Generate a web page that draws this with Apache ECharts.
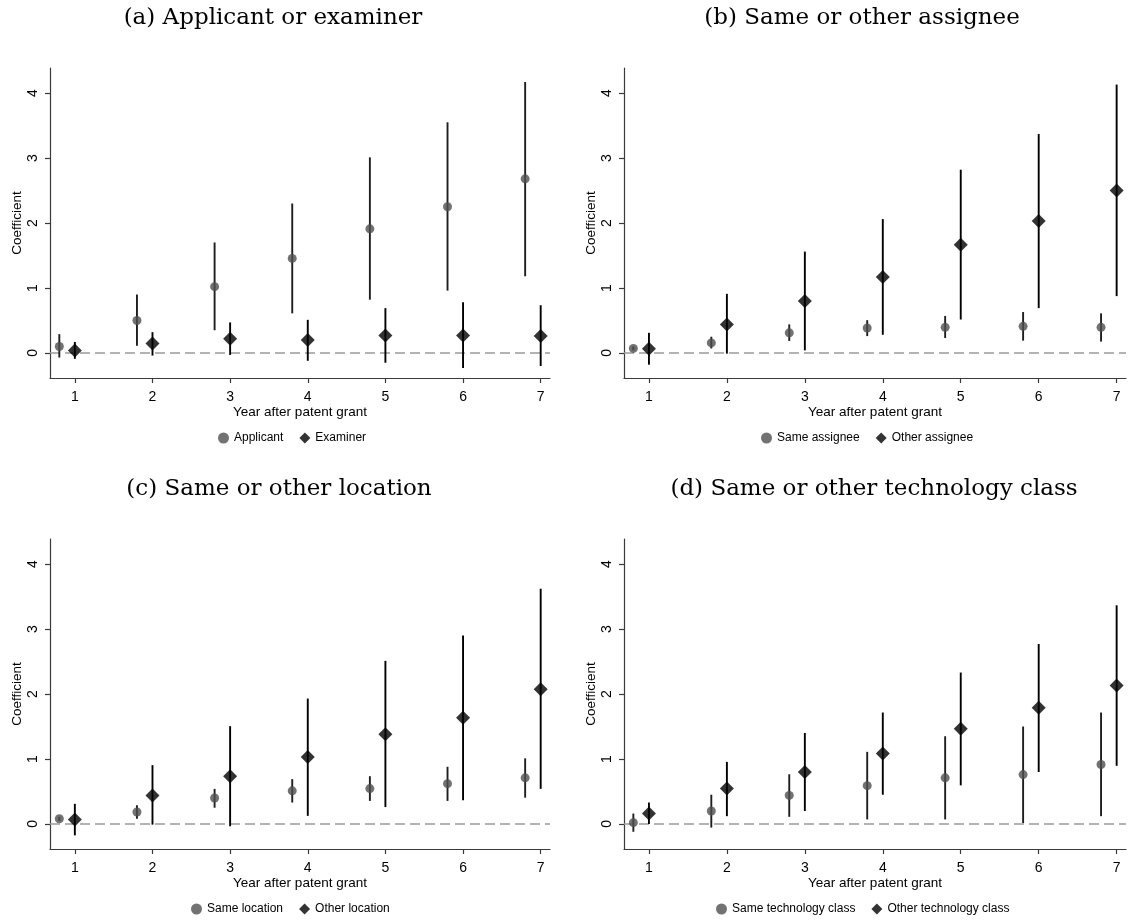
<!DOCTYPE html>
<html>
<head>
<meta charset="utf-8">
<script src="https://cdn.jsdelivr.net/npm/echarts@6/dist/echarts.min.js"></script>
<style>html,body{margin:0;padding:0;background:#fff}#c{width:1134px;height:922px}</style>
</head>
<body>
<div id="c"></div>
<script>
// ---------- data ----------
const years = [1, 2, 3, 4, 5, 6, 7];
const xTicks = [1, 2, 3, 4, 5, 6, 7];
const yTicks = [0, 1, 2, 3, 4];
const refLineValue = 0;

const panelTitles = ['(a) Applicant or examiner', '(b) Same or other assignee', '(c) Same or other location', '(d) Same or other technology class'];
const circleNames = ['Applicant', 'Same assignee', 'Same location', 'Same technology class'];
const diamondNames = ['Examiner', 'Other assignee', 'Other location', 'Other technology class'];

// (a)
const applicantCoef = [0.10, 0.50, 1.02, 1.455, 1.91, 2.25, 2.68];
const applicantLo   = [-0.07, 0.11, 0.35, 0.61, 0.82, 0.96, 1.18];
const applicantHi   = [0.29, 0.90, 1.70, 2.30, 3.01, 3.55, 4.17];
const examinerCoef  = [0.04, 0.145, 0.22, 0.20, 0.27, 0.27, 0.26];
const examinerLo    = [-0.09, -0.04, -0.03, -0.12, -0.15, -0.23, -0.20];
const examinerHi    = [0.17, 0.32, 0.47, 0.51, 0.69, 0.78, 0.735];
// (b)
const sameAssigneeCoef  = [0.07, 0.155, 0.31, 0.385, 0.395, 0.41, 0.395];
const sameAssigneeLo    = [0.04, 0.07, 0.185, 0.26, 0.23, 0.19, 0.175];
const sameAssigneeHi    = [0.10, 0.25, 0.44, 0.505, 0.57, 0.63, 0.61];
const otherAssigneeCoef = [0.065, 0.44, 0.80, 1.17, 1.665, 2.03, 2.50];
const otherAssigneeLo   = [-0.18, -0.01, 0.04, 0.28, 0.515, 0.69, 0.875];
const otherAssigneeHi   = [0.31, 0.91, 1.56, 2.06, 2.82, 3.37, 4.13];
// (c)
const sameLocationCoef  = [0.08, 0.185, 0.40, 0.51, 0.545, 0.62, 0.71];
const sameLocationLo    = [0.05, 0.08, 0.25, 0.33, 0.355, 0.355, 0.405];
const sameLocationHi    = [0.11, 0.29, 0.54, 0.69, 0.735, 0.88, 1.01];
const otherLocationCoef = [0.07, 0.44, 0.735, 1.03, 1.38, 1.635, 2.075];
const otherLocationLo   = [-0.175, -0.01, -0.035, 0.125, 0.26, 0.365, 0.54];
const otherLocationHi   = [0.31, 0.905, 1.505, 1.93, 2.51, 2.90, 3.62];
// (d)
const sameTechCoef  = [0.02, 0.20, 0.44, 0.59, 0.71, 0.76, 0.915];
const sameTechLo    = [-0.12, -0.055, 0.11, 0.07, 0.07, 0.015, 0.12];
const sameTechHi    = [0.16, 0.45, 0.765, 1.11, 1.35, 1.50, 1.715];
const otherTechCoef = [0.16, 0.545, 0.80, 1.085, 1.465, 1.79, 2.13];
const otherTechLo   = [0.00, 0.12, 0.20, 0.45, 0.595, 0.80, 0.895];
const otherTechHi   = [0.33, 0.955, 1.40, 1.715, 2.33, 2.77, 3.365];

const circleCoef = [applicantCoef, sameAssigneeCoef, sameLocationCoef, sameTechCoef];
const circleLo   = [applicantLo, sameAssigneeLo, sameLocationLo, sameTechLo];
const circleHi   = [applicantHi, sameAssigneeHi, sameLocationHi, sameTechHi];
const diamondCoef = [examinerCoef, otherAssigneeCoef, otherLocationCoef, otherTechCoef];
const diamondLo   = [examinerLo, otherAssigneeLo, otherLocationLo, otherTechLo];
const diamondHi   = [examinerHi, otherAssigneeHi, otherLocationHi, otherTechHi];

// ---------- layout / style ----------
const circleOffset = -0.2;
const xMin = 0.68, xMax = 7.12, yMin = -0.385, yMax = 4.385;
const grids = [
  {left: 50, top: 68, width: 500, height: 310},
  {left: 624, top: 68, width: 502, height: 310},
  {left: 50, top: 539, width: 500, height: 310},
  {left: 624, top: 539, width: 502, height: 310}
];
const titlePos = [[273, 18], [862, 18], [279, 489], [874, 489]];
const legendPos = [[218, 432], [761, 432], [191, 903], [716, 903]];
const sans = 'Liberation Sans, Arial, sans-serif';
const axisColor = '#3a3a3a';
const circleColor = '#4f4f4f';
const diamondColor = '#000000';
const ciColor = '#1e1e1e';

function errorRender(color) {
  return function (params, api) {
    const x = api.value(0), lo = api.value(1), hi = api.value(2);
    const p1 = api.coord([x, lo]), p2 = api.coord([x, hi]);
    return {type: 'line', shape: {x1: p1[0], y1: p1[1], x2: p2[0], y2: p2[1]},
            style: {stroke: color, lineWidth: 1.9}};
  };
}
function refLineRender(params, api) {
  const p1 = api.coord([xMin, api.value(0)]);
  const p2 = api.coord([xMax, api.value(0)]);
  return {type: 'line', shape: {x1: p1[0], y1: p1[1], x2: p2[0], y2: p2[1]},
          style: {stroke: '#9a9a9a', lineWidth: 1.6, lineDash: [10, 5]}};
}

const xAxes = [], yAxes = [], series = [], legends = [], graphics = [];
for (let i = 0; i < 4; i++) {
  xAxes.push({
    type: 'value', gridIndex: i, min: xMin, max: xMax,
    name: 'Year after patent grant', nameLocation: 'middle', nameGap: 24,
    nameTextStyle: {fontFamily: sans, fontSize: 13.5, color: '#000'},
    axisLine: {show: true, onZero: false, lineStyle: {color: axisColor, width: 1.2}},
    axisTick: {show: true, length: 5, customValues: xTicks, lineStyle: {color: axisColor, width: 1.2}},
    axisLabel: {customValues: xTicks, margin: 12, fontFamily: sans, fontSize: 14, color: '#000'},
    splitLine: {show: false}
  });
  yAxes.push({
    type: 'value', gridIndex: i, min: yMin, max: yMax,
    name: 'Coefficient', nameLocation: 'middle', nameGap: 26, nameRotate: 90,
    nameTextStyle: {fontFamily: sans, fontSize: 13.5, color: '#000'},
    axisLine: {show: true, onZero: false, lineStyle: {color: axisColor, width: 1.2}},
    axisTick: {show: true, length: 5, customValues: yTicks, lineStyle: {color: axisColor, width: 1.2}},
    axisLabel: {customValues: yTicks, rotate: 90, margin: 10, fontFamily: sans, fontSize: 14, color: '#000'},
    splitLine: {show: false}
  });
  const cData = years.map((y, k) => [y + circleOffset, circleLo[i][k], circleHi[i][k]]);
  const dData = years.map((y, k) => [y, diamondLo[i][k], diamondHi[i][k]]);
  series.push({
    type: 'custom', xAxisIndex: i, yAxisIndex: i, renderItem: refLineRender,
    data: [[refLineValue]], encode: {y: 0}, z: 1, silent: true
  });
  series.push({
    type: 'custom', xAxisIndex: i, yAxisIndex: i, renderItem: errorRender(ciColor),
    data: cData, encode: {x: 0, y: [1, 2]}, z: 2, silent: true
  });
  series.push({
    type: 'custom', xAxisIndex: i, yAxisIndex: i, renderItem: errorRender('#000'),
    data: dData, encode: {x: 0, y: [1, 2]}, z: 2, silent: true
  });
  series.push({
    name: circleNames[i], type: 'scatter', xAxisIndex: i, yAxisIndex: i,
    symbol: 'circle', symbolSize: 9, itemStyle: {color: circleColor}, z: 3,
    data: years.map((y, k) => [y + circleOffset, circleCoef[i][k]])
  });
  series.push({
    name: diamondNames[i], type: 'scatter', xAxisIndex: i, yAxisIndex: i,
    symbol: 'diamond', symbolSize: 14, itemStyle: {color: diamondColor}, z: 3,
    data: years.map((y, k) => [y, diamondCoef[i][k]])
  });
  legends.push({
    data: [circleNames[i], diamondNames[i]], left: legendPos[i][0], top: legendPos[i][1],
    itemWidth: 11, itemHeight: 11, itemGap: 16, padding: 0,
    textStyle: {fontFamily: sans, fontSize: 12, color: '#000'}
  });
  graphics.push({
    type: 'text', x: titlePos[i][0], y: titlePos[i][1],
    style: {text: panelTitles[i], align: 'center', verticalAlign: 'middle',
      font: '23px "DejaVu Serif", serif', fill: '#000'}
  });
}

const chart = echarts.init(document.getElementById('c'), null, {renderer: 'canvas'});
chart.setOption({
  animation: false,
  backgroundColor: '#fff',
  grid: grids,
  xAxis: xAxes,
  yAxis: yAxes,
  legend: legends,
  series: series,
  graphic: graphics
});
</script>
</body>
</html>
